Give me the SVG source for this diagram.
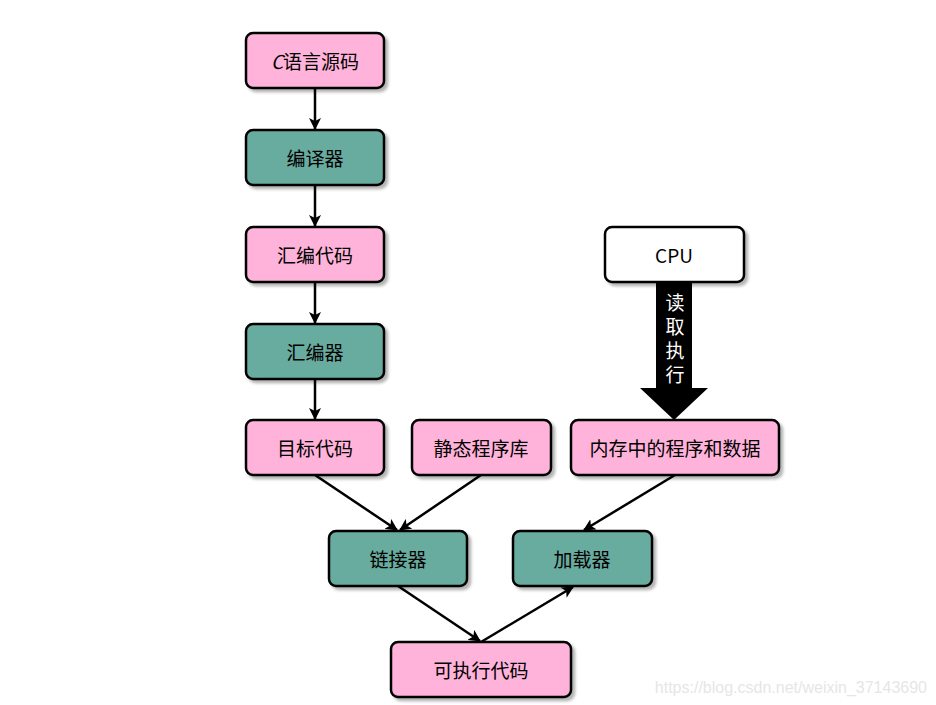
<svg xmlns="http://www.w3.org/2000/svg" width="936" height="705" viewBox="0 0 936 705">
<defs>
<filter id="sh" x="-10%" y="-10%" width="130%" height="140%">
<feGaussianBlur in="SourceAlpha" stdDeviation="1.5"/>
<feOffset dx="3" dy="3" result="b"/>
<feComponentTransfer><feFuncA type="linear" slope="0.3"/></feComponentTransfer>
<feMerge><feMergeNode/><feMergeNode in="SourceGraphic"/></feMerge>
</filter>
<marker id="ah" viewBox="0 0 12 12" refX="11" refY="6" markerWidth="12" markerHeight="12" markerUnits="userSpaceOnUse" orient="auto">
<path d="M0,0 L12,6 L0,12 L3,6 Z" fill="#000"/>
</marker>
</defs>
<style>
.box{stroke:#000;stroke-width:2.5;filter:url(#sh)}
.pink{fill:#FFB3DA}
.teal{fill:#67AB9F}
.white{fill:#FFFFFF}
.t{font-family:"Noto Sans CJK SC","Noto Sans",sans-serif;font-size:19px;fill:#000;text-anchor:middle;dominant-baseline:central}
.v{font-family:"Noto Sans CJK SC",sans-serif;font-size:19px;fill:#fff;writing-mode:vertical-rl;text-anchor:middle;letter-spacing:5px}
.c{fill:none;stroke:#000;stroke-width:2.5;marker-end:url(#ah)}
</style>
<rect width="936" height="705" fill="#fff"/>
<g id="connectors">
<line class="c" x1="315" y1="88" x2="315" y2="129"/>
<line class="c" x1="315" y1="185" x2="315" y2="226"/>
<line class="c" x1="315" y1="282" x2="315" y2="323"/>
<line class="c" x1="315" y1="379" x2="315" y2="419"/>
<line class="c" x1="315" y1="475" x2="397" y2="530"/>
<line class="c" x1="481" y1="475" x2="400" y2="530"/>
<line class="c" x1="675" y1="475" x2="584" y2="530"/>
<line class="c" x1="398" y1="586" x2="480" y2="641"/>
<line class="c" x1="481" y1="642" x2="573" y2="587"/>
<g id="read-exec">
<path d="M656,282 L692,282 L692,388 L708,388 L674,420 L640,388 L656,388 Z" fill="#000"/>
<text class="v" x="675" y="341">读取执行</text>
</g>
</g>
<g id="n-csrc"><rect class="box pink" x="246" y="33" width="138" height="55" rx="7"/><text class="t" x="315" y="60"><tspan font-style="italic">C</tspan>语言源码</text></g>
<g id="n-compiler"><rect class="box teal" x="246" y="130" width="138" height="55" rx="7"/><text class="t" x="315" y="157">编译器</text></g>
<g id="n-asm"><rect class="box pink" x="246" y="227" width="138" height="55" rx="7"/><text class="t" x="315" y="254">汇编代码</text></g>
<g id="n-assembler"><rect class="box teal" x="246" y="324" width="138" height="55" rx="7"/><text class="t" x="315" y="351">汇编器</text></g>
<g id="n-obj"><rect class="box pink" x="246" y="420" width="138" height="55" rx="7"/><text class="t" x="315" y="447">目标代码</text></g>
<g id="n-lib"><rect class="box pink" x="412" y="420" width="139" height="55" rx="7"/><text class="t" x="481" y="447">静态程序库</text></g>
<g id="n-mem"><rect class="box pink" x="571" y="420" width="208" height="55" rx="7"/><text class="t" x="675" y="447">内存中的程序和数据</text></g>
<g id="n-cpu"><rect class="box white" x="605" y="227" width="139" height="55" rx="7"/><text class="t" x="674" y="254">CPU</text></g>
<g id="n-linker"><rect class="box teal" x="329" y="531" width="138" height="55" rx="7"/><text class="t" x="398" y="558">链接器</text></g>
<g id="n-loader"><rect class="box teal" x="513" y="531" width="139" height="55" rx="7"/><text class="t" x="582" y="558">加载器</text></g>
<g id="n-exe"><rect class="box pink" x="391" y="642" width="180" height="55" rx="7"/><text class="t" x="481" y="669">可执行代码</text></g>
<text x="927" y="693" font-family="Liberation Sans,Arial,sans-serif" font-size="16" fill="#e6e6e6" text-anchor="end">https://blog.csdn.net/weixin_37143690</text>
</svg>
